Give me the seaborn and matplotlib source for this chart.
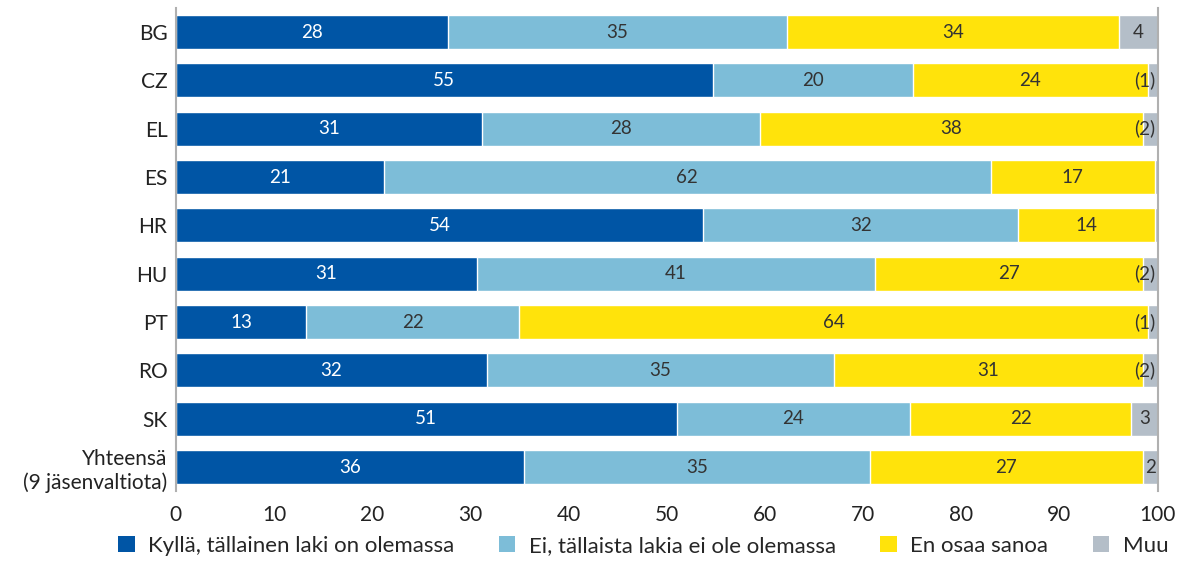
import matplotlib.pyplot as plt
import numpy as np
import pandas as pd
import seaborn as sns
from matplotlib.patches import Patch

# data (shares in %)
countries = ["BG", "CZ", "EL", "ES", "HR", "HU", "PT", "RO", "SK",
             "Yhteensä\n(9 jäsenvaltiota)"]
yes_law = [27.7, 54.7, 31.2, 21.2, 53.7, 30.7, 13.3, 31.7, 51.0, 35.5]
no_law = [34.6, 20.4, 28.3, 61.8, 32.1, 40.5, 21.7, 35.3, 23.8, 35.2]
dont_know = [33.8, 23.9, 39.0, 16.7, 13.9, 27.3, 64.0, 31.5, 22.5, 27.8]
other = [3.9, 1.0, 1.5, 0.3, 0.3, 1.5, 1.0, 1.5, 2.7, 1.5]

yes_lbl = ["28", "55", "31", "21", "54", "31", "13", "32", "51", "36"]
no_lbl = ["35", "20", "28", "62", "32", "41", "22", "35", "24", "35"]
dk_lbl = ["34", "24", "38", "17", "14", "27", "64", "31", "22", "27"]
other_lbl = ["4", "(1)", "(2)", "", "", "(2)", "(1)", "(2)", "3", "2"]

series_names = ["Kyllä, tällainen laki on olemassa",
                "Ei, tällaista lakia ei ole olemassa",
                "En osaa sanoa", "Muu"]
colors = ["#0055a5", "#7dbdd8", "#ffe30b", "#b4bec8"]

sns.set_theme(style="white")
plt.rcParams["font.family"] = ["Lato", "DejaVu Sans"]

df = pd.DataFrame({"maa": countries, "s1": yes_law, "s2": no_law,
                   "s3": dont_know, "s4": other})
cols = ["s1", "s2", "s3", "s4"]
cum = df[cols].cumsum(axis=1)

fig = plt.figure(figsize=(11.8, 5.62), dpi=100, facecolor="w")
ax = fig.add_axes([0.149, 0.126, 0.832, 0.860])

# stacked bars: draw cumulative totals from the back to the front
for i in reversed(range(4)):
    sns.barplot(x=cum[cols[i]], y=df["maa"], orient="h", color=colors[i],
                width=0.7, saturation=1, ax=ax)

# segment labels
labels = [yes_lbl, no_lbl, dk_lbl, other_lbl]
txt_col = ["white", "#333333", "#333333", "#333333"]
for i in range(4):
    for j in range(len(countries)):
        txt = labels[i][j]
        if not txt:
            continue
        right = cum[cols[i]].iloc[j]
        left = right - df[cols[i]].iloc[j]
        if txt.startswith("("):
            ax.text(99.8, j, txt, ha="right", va="center", fontsize=13.5,
                    color=txt_col[i])
        else:
            ax.text((left + right) / 2, j, txt, ha="center", va="center",
                    fontsize=13.5, color=txt_col[i])

ax.set_xlim(0, 100)
ax.set_ylim(9.5, -0.5)
ax.set_xticks(np.arange(0, 101, 10))
ax.set_xlabel("")
ax.set_ylabel("")
ax.tick_params(axis="both", length=0, labelsize=15, colors="#222222")
ax.tick_params(axis="x", pad=10)
ax.tick_params(axis="y", pad=6)
for s in ["top", "bottom"]:
    ax.spines[s].set_visible(False)
for s in ["left", "right"]:
    ax.spines[s].set_color("#b0b0b0")
    ax.spines[s].set_linewidth(1.5)

handles = [Patch(facecolor=c, edgecolor="none") for c in colors]
fig.legend(handles, series_names, loc="lower center", ncol=4,
           bbox_to_anchor=(0.545, -0.025), frameon=False, fontsize=16,
           handlelength=0.75, handleheight=0.75, handletextpad=0.6,
           columnspacing=2.0)

plt.savefig("out.png", dpi=100, facecolor="w")
